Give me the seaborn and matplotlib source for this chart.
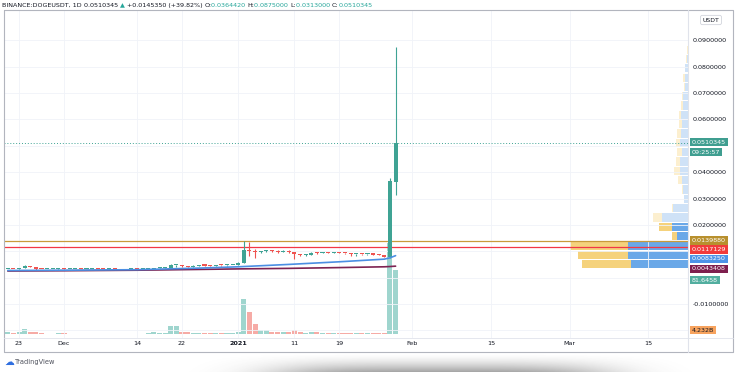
import numpy as np
import pandas as pd
import matplotlib
matplotlib.use("Agg")
import matplotlib.pyplot as plt
import matplotlib.dates as mdates
from matplotlib.ticker import FuncFormatter
import seaborn as sns

# BINANCE:DOGEUSDT daily candles, 21 Nov 2020 - 29 Jan 2021
dates = pd.date_range("2020-11-21", "2021-01-29", freq="D")
opens = [0.00311, 0.00331, 0.00326, 0.00352, 0.00425, 0.00400, 0.00330, 0.00325, 0.00334, 0.00336,
         0.00342, 0.00328, 0.00334, 0.00338, 0.00324, 0.00332, 0.00336, 0.00330, 0.00312, 0.00320,
         0.00310, 0.00302, 0.00312, 0.00320, 0.00318, 0.00322, 0.00342, 0.00356, 0.00366, 0.00382,
         0.00462, 0.00466, 0.00440, 0.00418, 0.00450, 0.00465, 0.00458, 0.00452, 0.00470, 0.00466,
         0.00468, 0.00470, 0.00568, 0.01050, 0.01010, 0.00980, 0.00995, 0.01030, 0.01000, 0.00985,
         0.01020, 0.00975, 0.00880, 0.00845, 0.00870, 0.00945, 0.00930, 0.00950, 0.00940, 0.00945,
         0.00930, 0.00920, 0.00880, 0.00895, 0.00885, 0.00895, 0.00875, 0.00862, 0.00780, 0.03644]
highs = [0.00338, 0.00345, 0.00360, 0.00460, 0.00445, 0.00405, 0.00345, 0.00340, 0.00345, 0.00350,
         0.00352, 0.00340, 0.00345, 0.00342, 0.00335, 0.00340, 0.00340, 0.00334, 0.00324, 0.00322,
         0.00312, 0.00316, 0.00326, 0.00324, 0.00326, 0.00348, 0.00368, 0.00372, 0.00390, 0.00520,
         0.00480, 0.00475, 0.00452, 0.00460, 0.00475, 0.00472, 0.00475, 0.00478, 0.00475, 0.00474,
         0.00478, 0.00590, 0.01399, 0.01350, 0.01080, 0.01010, 0.01060, 0.01050, 0.01040, 0.01030,
         0.01040, 0.00990, 0.00900, 0.00880, 0.00960, 0.00970, 0.00960, 0.00965, 0.00955, 0.00960,
         0.00945, 0.00925, 0.00910, 0.00910, 0.00905, 0.00920, 0.00890, 0.00870, 0.03780, 0.08750]
lows = [0.00309, 0.00320, 0.00322, 0.00348, 0.00385, 0.00290, 0.00310, 0.00318, 0.00328, 0.00330,
        0.00318, 0.00320, 0.00328, 0.00318, 0.00320, 0.00326, 0.00325, 0.00308, 0.00300, 0.00306,
        0.00296, 0.00300, 0.00308, 0.00312, 0.00314, 0.00318, 0.00336, 0.00345, 0.00360, 0.00375,
        0.00420, 0.00410, 0.00400, 0.00412, 0.00440, 0.00450, 0.00440, 0.00448, 0.00455, 0.00455,
        0.00460, 0.00465, 0.00560, 0.00820, 0.00760, 0.00920, 0.00960, 0.00990, 0.00950, 0.00975,
        0.00940, 0.00710, 0.00820, 0.00820, 0.00860, 0.00890, 0.00915, 0.00920, 0.00920, 0.00920,
        0.00880, 0.00820, 0.00830, 0.00870, 0.00870, 0.00860, 0.00840, 0.00770, 0.00760, 0.03130]
closes = [0.00331, 0.00326, 0.00352, 0.00425, 0.00400, 0.00330, 0.00325, 0.00334, 0.00336, 0.00342,
          0.00328, 0.00334, 0.00338, 0.00324, 0.00332, 0.00336, 0.00330, 0.00312, 0.00320, 0.00310,
          0.00302, 0.00312, 0.00320, 0.00318, 0.00322, 0.00342, 0.00356, 0.00366, 0.00382, 0.00462,
          0.00466, 0.00440, 0.00418, 0.00450, 0.00465, 0.00458, 0.00452, 0.00470, 0.00466, 0.00468,
          0.00470, 0.00568, 0.01050, 0.01010, 0.00980, 0.00995, 0.01030, 0.01000, 0.00985, 0.01020,
          0.00975, 0.00880, 0.00845, 0.00870, 0.00945, 0.00930, 0.00950, 0.00940, 0.00945, 0.00930,
          0.00920, 0.00880, 0.00895, 0.00885, 0.00895, 0.00875, 0.00862, 0.00780, 0.03650, 0.0510345]
# volume, billions
volume = [0.13, 0.09, 0.10, 0.30, 0.14, 0.15, 0.05, 0.03, 0.03, 0.04,
          0.04, 0.03, 0.03, 0.03, 0.02, 0.02, 0.02, 0.03, 0.03, 0.03,
          0.03, 0.02, 0.02, 0.02, 0.02, 0.04, 0.16, 0.06, 0.05, 0.50,
          0.50, 0.14, 0.14, 0.08, 0.07, 0.05, 0.06, 0.08, 0.05, 0.04,
          0.06, 0.13, 2.31, 1.45, 0.69, 0.26, 0.27, 0.14, 0.12, 0.15,
          0.14, 0.26, 0.13, 0.08, 0.15, 0.12, 0.06, 0.05, 0.07, 0.06,
          0.07, 0.08, 0.06, 0.05, 0.05, 0.06, 0.05, 0.06, 6.00, 4.232]

# moving averages
ma_dates = pd.to_datetime(["2020-11-21", "2020-12-01", "2020-12-14", "2020-12-25", "2021-01-01",
                           "2021-01-10", "2021-01-19", "2021-01-27", "2021-01-28", "2021-01-29"])
ma_fast = [0.0027, 0.0028, 0.0030, 0.0036, 0.0041, 0.0050, 0.0060, 0.0070, 0.0075, 0.0083250]
ma_slow = [0.0025, 0.0026, 0.0028, 0.0031, 0.0033, 0.0035, 0.0038, 0.0041, 0.0042, 0.0043408]

level_gold = 0.0139880
level_red = 0.0117129

# visible range volume profile, rows from bottom to top
vp_start, vp_step = 0.0033, 0.00354
vp_up = [57, 60, 60, 11, 16, 26, 15, 4, 4.7, 6.3, 8.3, 7.7, 6.3, 8, 7.3, 5.7, 6.7, 5, 4.7, 2.7, 3.3, 2.7, 1.3, 0]
vp_down = [49, 50, 58, 5, 13, 9, 1.3, 0, 1, 3.3, 5.7, 4.7, 4.3, 4.3, 4, 3.3, 2.3, 1.7, 1, 1.3, 1.3, 0, 1, 1.3]
vp_value_rows = 5

# the labels at 0.05, 0.01, 0.00 and -0.02 sit under the value tags
price_ticks = [-0.01, 0.02, 0.03, 0.04, 0.06, 0.07, 0.08, 0.09]
grid_prices = [-0.02, -0.01, 0.0, 0.01, 0.02, 0.03, 0.04, 0.05, 0.06, 0.07, 0.08, 0.09]
date_ticks = ["2020-11-23", "2020-12-01", "2020-12-14", "2020-12-22", "2021-01-01", "2021-01-11",
              "2021-01-19", "2021-02-01", "2021-02-15", "2021-03-01", "2021-03-15"]
date_labels = ["23", "Dec", "14", "22", "2021", "11", "19", "Feb", "15", "Mar", "15"]

UP, DOWN = "#3fa394", "#ef5350"
TXT = "#131722"

sns.set_theme(style="white")
plt.rcParams["font.family"] = ["DejaVu Sans"]
plt.rcParams["axes.unicode_minus"] = False

W, H = 736, 372
fig = plt.figure(figsize=(W / 100, H / 100), dpi=100)
fig.patch.set_facecolor("white")

ax = fig.add_axes([4 / W, 1 - 338 / H, 684 / W, 328 / H])
ax_vol = ax.twinx()
ax_vp = ax.twiny()
ax_vol.set_zorder(0)
ax_vp.set_zorder(1)
ax.set_zorder(2)
ax.patch.set_visible(False)
ax_vp.patch.set_visible(False)
ax_vol.patch.set_facecolor("white")

x = mdates.date2num(dates)
o, h, l, c = map(np.array, (opens, highs, lows, closes))
up = c >= o
colors = [UP if u else DOWN for u in up]

# volume
vcol = ["#9fd5ce" if u else "#f6aba6" for u in up]
ax_vol.bar(x, volume, width=0.9, color=vcol, linewidth=0)
ax_vol.set_ylim(-0.264, 21.41)
ax_vol.set_yticks([])

# volume profile
centers = vp_start + vp_step * (np.arange(len(vp_up)) + 0.5)
up_c = ["#6aa8e8" if i < vp_value_rows else "#cfe2f7" for i in range(len(vp_up))]
dn_c = ["#f5d27c" if i < vp_value_rows else "#fcefcf" for i in range(len(vp_up))]
ax_vp.barh(centers, vp_up, height=vp_step * 0.88, left=0, color=up_c, linewidth=0)
ax_vp.barh(centers, vp_down, height=vp_step * 0.88, left=vp_up, color=dn_c, linewidth=0)
ax_vp.set_xlim(684, 0)
ax_vp.set_xticks([])

# candles
for xi, li, hi, col in zip(x, l, h, colors):
    ax.plot([xi, xi], [li, hi], color=col, linewidth=0.8, zorder=3, solid_capstyle="butt")
ax.bar(x, np.maximum(np.abs(c - o), 0.0004), bottom=np.minimum(o, c), width=0.72,
       color=colors, linewidth=0, zorder=4)

# moving averages
sns.lineplot(x=mdates.date2num(ma_dates), y=ma_slow, ax=ax, color="#7d2352", linewidth=1.2, zorder=5)
sns.lineplot(x=mdates.date2num(ma_dates), y=ma_fast, ax=ax, color="#4b8fe3", linewidth=1.2, zorder=5)

ax.axhline(level_gold, color="#c99a3b", linewidth=0.9, zorder=2)
ax.axhline(level_red, color="#f23645", linewidth=0.9, zorder=2)
ax.axhline(closes[-1], color="#3fa394", linewidth=0.7, linestyle=(0, (1, 2)), zorder=2)

dec1 = mdates.date2num(pd.Timestamp("2020-12-01"))
ax.set_xlim(dec1 + (4 - 64) / 5.62, dec1 + (688 - 64) / 5.62)
ax.set_ylim((277.6 - 338) / 2636, (277.6 - 10) / 2636)
ax.set_xlabel("")
ax.set_ylabel("")

ax.yaxis.tick_right()
ax.set_yticks(price_ticks)
ax.yaxis.set_major_formatter(FuncFormatter(lambda v, p: f"{v:.7f}"))
ax.tick_params(axis="y", length=0, pad=3.6, labelsize=4.6, labelcolor=TXT)
ax.set_xticks(mdates.date2num(pd.to_datetime(date_ticks)))
ax.set_xticklabels(date_labels)
ax.tick_params(axis="x", length=0, pad=2.4, labelsize=4.6, labelcolor=TXT)
for t in ax.get_xticklabels():
    if t.get_text() == "2021":
        t.set_fontweight("bold")
ax.grid(False)
for gp in grid_prices:
    ax.axhline(gp, color="#f0f3f8", linewidth=0.6, zorder=0.5)
for dt in ax.get_xticks():
    ax.axvline(dt, color="#f0f3f8", linewidth=0.6, zorder=0.5)
for a in (ax, ax_vol, ax_vp):
    for s in a.spines.values():
        s.set_visible(False)


def price_tag(price, text, fc, tc="white", dy=0):
    ax.annotate(text, xy=(1, price), xycoords=("axes fraction", "data"), xytext=(3.8, dy),
                textcoords="offset pixels", ha="left", va="center", fontsize=4.6, color=tc,
                bbox=dict(boxstyle="square,pad=0.3", fc=fc, ec="none"), annotation_clip=False, zorder=20)


price_tag(closes[-1], "0.0510345", "#3f9e90", dy=1)
price_tag(closes[-1], "09:25:57", "#3f9e90", dy=-9)
price_tag(level_gold, "0.0139880", "#b8902e", dy=0.5)
price_tag(level_red, "0.0117129", "#f23b3b", dy=-2.8)
price_tag(ma_fast[-1], "0.0083250", "#4d94e8", dy=-3.3)
price_tag(ma_slow[-1], "0.0043408", "#7e1f4e", dy=-2.8)

# decorations in pixel coordinates
deco = fig.add_axes([0, 0, 1, 1], zorder=10)
deco.axis("off")
deco.patch.set_visible(False)

deco.text(692, 280, "81.6458", fontsize=4.6, color="white", va="center", ha="left",
          bbox=dict(boxstyle="square,pad=0.3", fc="#52ae9f", ec="none"))
deco.text(692, 330, "4.232B", fontsize=4.6, color=TXT, va="center", ha="left",
          bbox=dict(boxstyle="square,pad=0.3", fc="#f7a35e", ec="none"))
deco.text(711, 20, "USDT", fontsize=4.4, color=TXT, va="center", ha="center",
          bbox=dict(boxstyle="round,pad=0.35,rounding_size=0.3", fc="white", ec="#d1d4dc", lw=0.6))

frame = "#b2b5be"
deco.plot([4, 733, 733, 4, 4], [10, 10, 352, 352, 10], color=frame, lw=0.8)
deco.plot([688, 688], [10, 352], color="#e0e3eb", lw=0.8)
deco.plot([4, 733], [338, 338], color="#e0e3eb", lw=0.6)

# header
pieces = [("BINANCE:DOGEUSDT, 1D ", TXT), ("0.0510345 ", TXT), ("\u25b2 ", "#26a69a"),
          ("+0.0145350 (+39.82%) ", TXT), ("O:", TXT), ("0.0364420 ", "#26a69a"),
          ("H:", TXT), ("0.0875000 ", "#26a69a"), ("L:", TXT), ("0.0313000 ", "#26a69a"),
          ("C:", TXT), ("0.0510345", "#26a69a")]
prev = deco.text(2, 5.5, pieces[0][0], color=pieces[0][1], fontsize=4.6, va="center", ha="left")
for s, col in pieces[1:]:
    prev = deco.annotate(s, xy=(1, 0.5), xycoords=prev, va="center", ha="left", fontsize=4.6, color=col)

# logo
deco.text(4, 362, "\u2601", color="#2f6fe0", fontsize=7, va="center", ha="left")
deco.text(15, 362, "TradingView", color="#50535e", fontsize=4.8, va="center", ha="left")

# soft shadow at the bottom of the screenshot
gx, gy = np.meshgrid(np.arange(W), np.arange(352, H))
alpha = 0.5 * np.exp(-((gx - 440) / 170.0) ** 4) * np.clip((gy - 353) / 19.0, 0, 1) ** 1.6
shadow = np.zeros((gy.shape[0], W, 4))
shadow[..., :3] = 0.25
shadow[..., 3] = alpha
deco.imshow(shadow, extent=(0, W, H, 352), aspect="auto", zorder=0, interpolation="bilinear")
deco.set_xlim(0, W)
deco.set_ylim(H, 0)

fig.savefig("out.png", dpi=100)
